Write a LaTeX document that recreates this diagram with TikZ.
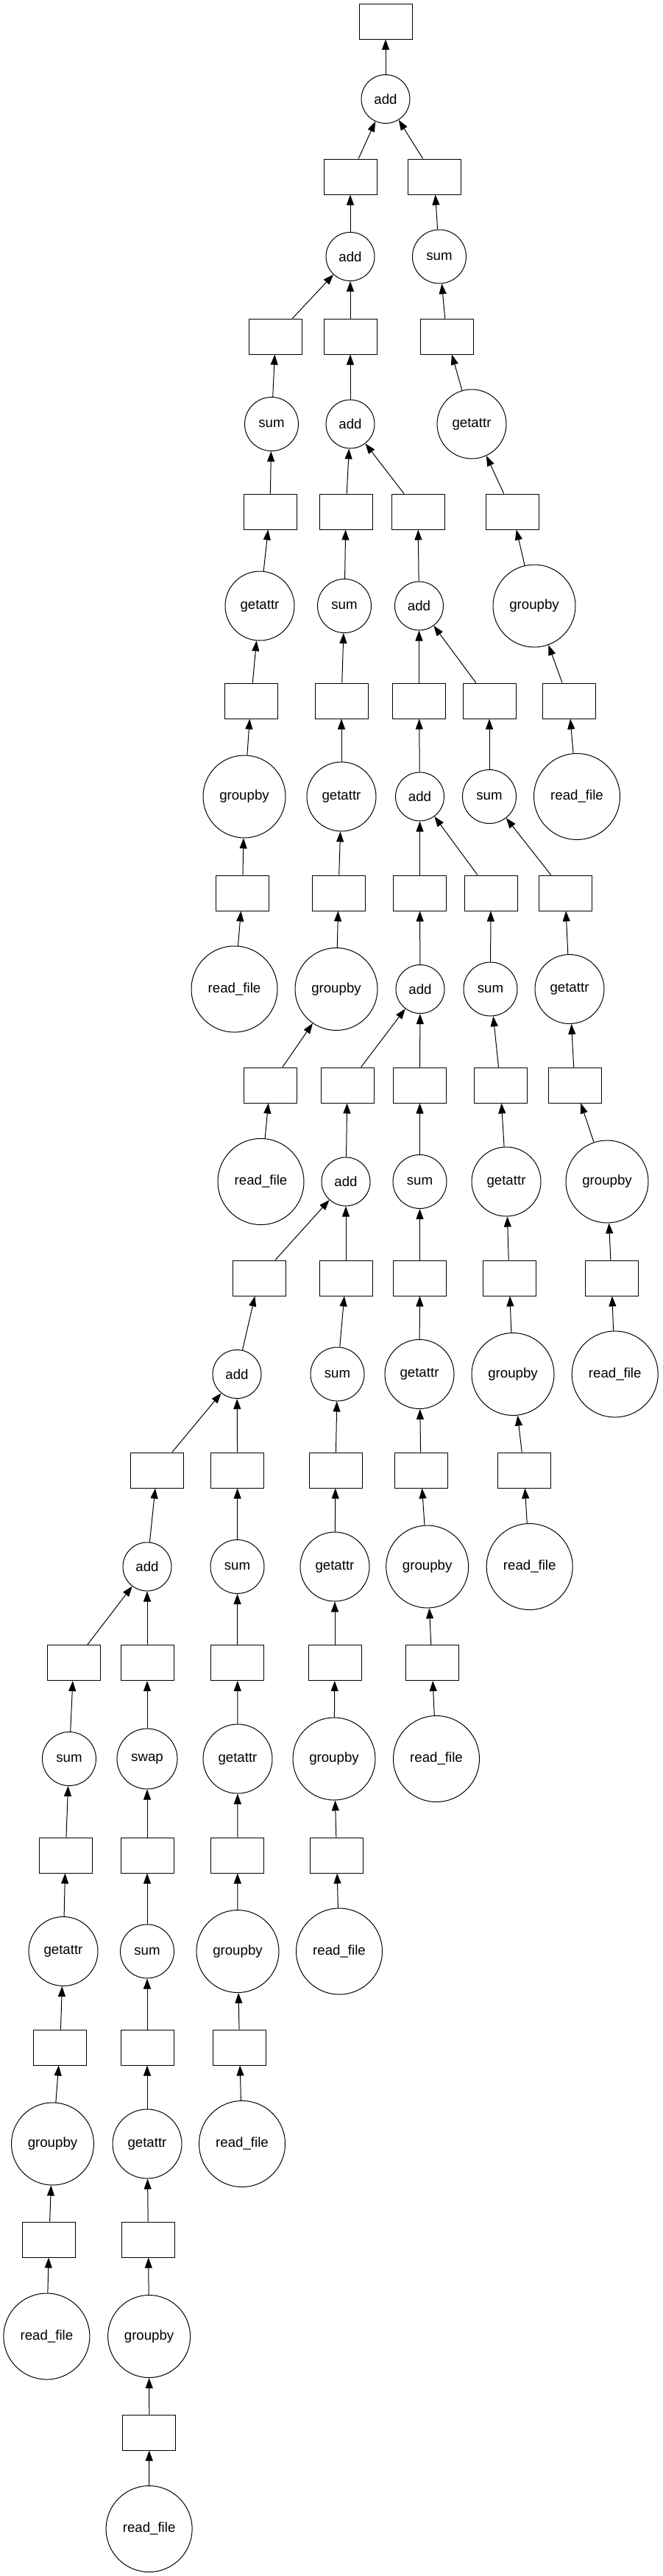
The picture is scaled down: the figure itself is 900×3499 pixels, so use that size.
\documentclass[tikz,border=0pt]{standalone}
\usepackage{fontspec}
\setmainfont{Liberation Sans}
\usetikzlibrary{arrows.meta}
\tikzset{
  base/.style={draw=black, line width=0.75pt, inner sep=0pt, font=\fontsize{14pt}{16pt}\selectfont},
  box/.style={base, rectangle, minimum width=54pt, minimum height=36pt},
  addn/.style={base, circle, minimum size=49.5pt},
  sumn/.style={base, circle, minimum size=54.75pt},
  swpn/.style={base, circle, minimum size=61.5pt},
  getn/.style={base, circle, minimum size=70.5pt},
  grpn/.style={base, circle, minimum size=84pt},
  rfn/.style={base, circle, minimum size=87.75pt},
  arr/.style={line width=0.75pt, -{Triangle[length=10.5pt,width=7.5pt]}}
}
\begin{document}
\begin{tikzpicture}[x=0.75pt, y=-0.75pt]
\useasboundingbox[fill=white] (0,0) rectangle (900,3499);
% rank 0-1
\node[box] (b0) at (524,29) {};
\node[addn] (a1) at (524,134.5) {add};
% rank 2-3
\node[box] (b2a) at (476,240) {};
\node[box] (b2b) at (590,240) {};
\node[addn] (a3) at (476,348.5) {add};
\node[sumn] (s3) at (597,348.5) {sum};
% rank 4-5
\node[box] (b4a) at (374.5,457) {};
\node[box] (b4b) at (476,457) {};
\node[box] (b4c) at (607,457) {};
\node[sumn] (s5) at (369,576) {sum};
\node[addn] (a5) at (476,576) {add};
\node[getn] (g5) at (641,576) {getattr};
% rank 6-7
\node[box] (b6a) at (367,695) {};
\node[box] (b6b) at (470,695) {};
\node[box] (b6c) at (568,695) {};
\node[box] (b6d) at (696,695) {};
\node[getn] (g7) at (353,823) {getattr};
\node[sumn] (s7) at (468,823) {sum};
\node[addn] (a7) at (569.5,823) {add};
\node[grpn] (gb7) at (726,823) {groupby};
% rank 8-9
\node[box] (b8a) at (341,952) {};
\node[box] (b8b) at (464,952) {};
\node[box] (b8c) at (569.5,952) {};
\node[box] (b8d) at (665,952) {};
\node[box] (b8e) at (773,952) {};
\node[grpn] (gb9) at (332,1082) {groupby};
\node[getn] (g9) at (464,1082) {getattr};
\node[addn] (a9) at (570.5,1082) {add};
\node[sumn] (s9) at (665,1082) {sum};
\node[rfn] (rf9) at (784,1082) {read\_file};
% rank 10-11
\node[box] (b10a) at (329.5,1213) {};
\node[box] (b10b) at (460,1213) {};
\node[box] (b10c) at (570.5,1213) {};
\node[box] (b10d) at (667,1213) {};
\node[box] (b10e) at (768,1213) {};
\node[rfn] (rf11) at (318.5,1343.5) {read\_file};
\node[grpn] (gb11) at (457,1343.5) {groupby};
\node[addn] (a11) at (571,1343.5) {add};
\node[sumn] (s11) at (666.5,1343.5) {sum};
\node[getn] (g11) at (774,1343.5) {getattr};
% rank 12-13
\node[box] (b12a) at (367,1474) {};
\node[box] (b12b) at (472,1474) {};
\node[box] (b12c) at (570.5,1474) {};
\node[box] (b12d) at (680,1474) {};
\node[box] (b12e) at (781,1474) {};
\node[rfn] (rf13) at (354.5,1605) {read\_file};
\node[addn] (a13) at (470,1605) {add};
\node[sumn] (s13) at (570.5,1605) {sum};
\node[getn] (g13) at (688,1605) {getattr};
\node[grpn] (gb13) at (825,1605) {groupby};
% rank 14-15
\node[box] (b14a) at (352,1736) {};
\node[box] (b14b) at (470,1736) {};
\node[box] (b14c) at (570.5,1736) {};
\node[box] (b14d) at (692,1736) {};
\node[box] (b14e) at (831,1736) {};
\node[addn] (a15) at (322,1866.5) {add};
\node[sumn] (s15) at (458.5,1866.5) {sum};
\node[getn] (g15) at (570,1866.5) {getattr};
\node[grpn] (gb15) at (697,1866.5) {groupby};
\node[rfn] (rf15) at (835.7,1866.5) {read\_file};
% rank 16-17
\node[box] (b16a) at (213.5,1997) {};
\node[box] (b16b) at (322.7,1997) {};
\node[box] (b16c) at (456,1997) {};
\node[box] (b16d) at (572,1997) {};
\node[box] (b16e) at (712,1997) {};
\node[addn] (a17) at (200,2128) {add};
\node[sumn] (s17) at (322.5,2128) {sum};
\node[getn] (g17) at (455,2128) {getattr};
\node[grpn] (gb17) at (580.7,2128) {groupby};
\node[rfn] (rf17) at (719.7,2128) {read\_file};
% rank 18-19
\node[box] (b18a) at (100,2258.6) {};
\node[box] (b18b) at (200,2258.6) {};
\node[box] (b18c) at (322.7,2258.6) {};
\node[box] (b18d) at (455,2258.6) {};
\node[box] (b18e) at (587,2258.6) {};
\node[sumn] (s19) at (94,2389) {sum};
\node[swpn] (sw19) at (200,2389) {swap};
\node[getn] (g19) at (323,2389) {getattr};
\node[grpn] (gb19) at (454,2389) {groupby};
\node[rfn] (rf19) at (593,2389) {read\_file};
% rank 20-21
\node[box] (b20a) at (89,2520) {};
\node[box] (b20b) at (200,2520) {};
\node[box] (b20c) at (322.7,2520) {};
\node[box] (b20d) at (457.5,2520) {};
\node[getn] (g21) at (86,2650.5) {getattr};
\node[sumn] (s21) at (200,2650.5) {sum};
\node[grpn] (gb21) at (323,2650.5) {groupby};
\node[rfn] (rf21) at (461,2650.5) {read\_file};
% rank 22-23
\node[box] (b22a) at (81.6,2781) {};
\node[box] (b22b) at (200,2781) {};
\node[box] (b22c) at (325.5,2781) {};
\node[grpn] (gb23) at (71.5,2912) {groupby};
\node[getn] (g23) at (200,2912) {getattr};
\node[rfn] (rf23) at (329,2912) {read\_file};
% rank 24-27
\node[box] (b24a) at (66.7,3042) {};
\node[box] (b24b) at (201.5,3042) {};
\node[rfn] (rf25) at (63.4,3173.5) {read\_file};
\node[grpn] (gb25) at (202.6,3173.5) {groupby};
\node[box] (b26) at (202.8,3304) {};
\node[rfn] (rf27) at (202.6,3435) {read\_file};
% edges
\foreach \t/\h in {a1/b0,
  b2a/a1, b2b/a1,
  a3/b2a, s3/b2b,
  b4a/a3, b4b/a3, b4c/s3,
  s5/b4a, a5/b4b, g5/b4c,
  b6a/s5, b6b/a5, b6c/a5, b6d/g5,
  g7/b6a, s7/b6b, a7/b6c, gb7/b6d,
  b8a/g7, b8b/s7, b8c/a7, b8d/a7, b8e/gb7,
  gb9/b8a, g9/b8b, a9/b8c, s9/b8d, rf9/b8e,
  b10a/gb9, b10b/g9, b10c/a9, b10d/a9, b10e/s9,
  rf11/b10a, gb11/b10b, a11/b10c, s11/b10d, g11/b10e,
  b12a/gb11, b12b/a11, b12c/a11, b12d/s11, b12e/g11,
  rf13/b12a, a13/b12b, s13/b12c, g13/b12d, gb13/b12e,
  b14a/a13, b14b/a13, b14c/s13, b14d/g13, b14e/gb13,
  a15/b14a, s15/b14b, g15/b14c, gb15/b14d, rf15/b14e,
  b16a/a15, b16b/a15, b16c/s15, b16d/g15, b16e/gb15,
  a17/b16a, s17/b16b, g17/b16c, gb17/b16d, rf17/b16e,
  b18a/a17, b18b/a17, b18c/s17, b18d/g17, b18e/gb17,
  s19/b18a, sw19/b18b, g19/b18c, gb19/b18d, rf19/b18e,
  b20a/s19, b20b/sw19, b20c/g19, b20d/gb19,
  g21/b20a, s21/b20b, gb21/b20c, rf21/b20d,
  b22a/g21, b22b/s21, b22c/gb21,
  gb23/b22a, g23/b22b, rf23/b22c,
  b24a/gb23, b24b/g23,
  rf25/b24a, gb25/b24b,
  b26/gb25,
  rf27/b26}
  \draw[arr] (\t) -- (\h);
\end{tikzpicture}
\end{document}
